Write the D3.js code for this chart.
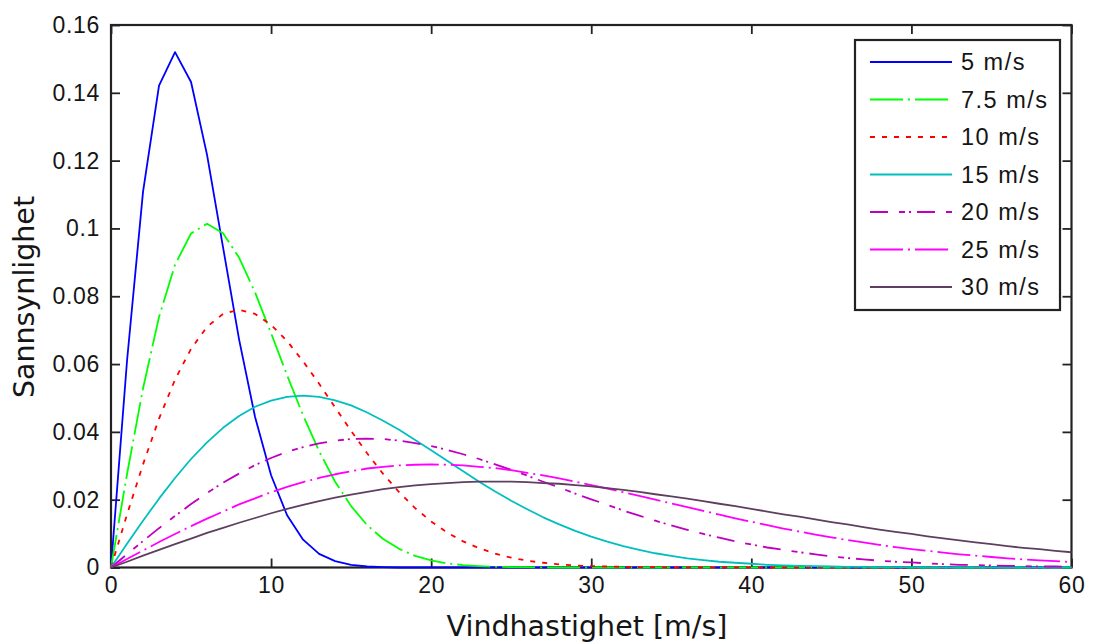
<!DOCTYPE html>
<html>
<head>
<meta charset="utf-8">
<script src="https://cdn.jsdelivr.net/npm/d3@7"></script>
<style>
  html, body { margin: 0; padding: 0; background: #ffffff; }
  svg { display: block; }
</style>
</head>
<body>
<svg id="chart" width="1096" height="642"></svg>
<script>
// ---------- data ----------
const windSpeeds = [0,1,2,3,4,5,6,7,8,9,10,11,12,13,14,15,16,17,18,19,20,21,22,23,24,25,26,27,28,29,30,
  31,32,33,34,35,36,37,38,39,40,41,42,43,44,45,46,47,48,49,50,51,52,53,54,55,56,57,58,59,60];

const seriesNames = ["5 m/s", "7.5 m/s", "10 m/s", "15 m/s", "20 m/s", "25 m/s", "30 m/s"];

const p5 = [0, 0.0609, 0.1108, 0.1421, 0.1520, 0.1432, 0.1217, 0.0944, 0.0673, 0.0444, 0.0272,
  0.0154, 0.0082, 0.0040, 0.0019, 0.0008, 0.0003, 0.0001, 0, 0, 0,
  0, 0, 0, 0, 0, 0, 0, 0, 0, 0,
  0, 0, 0, 0, 0, 0, 0, 0, 0, 0,
  0, 0, 0, 0, 0, 0, 0, 0, 0, 0,
  0, 0, 0, 0, 0, 0, 0, 0, 0, 0];

const p7_5 = [0, 0.0275, 0.0528, 0.0739, 0.0893, 0.0985, 0.1014, 0.0986, 0.0914, 0.0811, 0.0691,
  0.0567, 0.0449, 0.0343, 0.0253, 0.0181, 0.0125, 0.0084, 0.0055, 0.0034, 0.0021,
  0.0012, 0.0007, 0.0004, 0.0002, 0.0001, 0.0001, 0, 0, 0, 0,
  0, 0, 0, 0, 0, 0, 0, 0, 0, 0,
  0, 0, 0, 0, 0, 0, 0, 0, 0, 0,
  0, 0, 0, 0, 0, 0, 0, 0, 0, 0];

const p10 = [0, 0.0156, 0.0304, 0.0439, 0.0554, 0.0645, 0.0710, 0.0748, 0.0760, 0.0748, 0.0716,
  0.0668, 0.0608, 0.0542, 0.0472, 0.0403, 0.0337, 0.0276, 0.0222, 0.0175, 0.0136,
  0.0103, 0.0077, 0.0057, 0.0041, 0.0029, 0.0020, 0.0014, 0.0009, 0.0006, 0.0004,
  0.0003, 0.0002, 0.0001, 0.0001, 0, 0, 0, 0, 0, 0,
  0, 0, 0, 0, 0, 0, 0, 0, 0, 0,
  0, 0, 0, 0, 0, 0, 0, 0, 0, 0];

const p15 = [0, 0.0070, 0.0138, 0.0203, 0.0264, 0.0320, 0.0369, 0.0412, 0.0447, 0.0474, 0.0492,
  0.0503, 0.0507, 0.0503, 0.0493, 0.0478, 0.0457, 0.0433, 0.0406, 0.0376, 0.0346,
  0.0315, 0.0284, 0.0253, 0.0224, 0.0197, 0.0172, 0.0148, 0.0127, 0.0108, 0.0091,
  0.0076, 0.0063, 0.0052, 0.0042, 0.0034, 0.0027, 0.0022, 0.0017, 0.0014, 0.0011,
  0.0008, 0.0006, 0.0005, 0.0004, 0.0003, 0.0002, 0.0002, 0.0001, 0.0001, 0.0001,
  0, 0, 0, 0, 0, 0, 0, 0, 0, 0];

const p20 = [0, 0.0039, 0.0078, 0.0116, 0.0152, 0.0187, 0.0220, 0.0250, 0.0277, 0.0302, 0.0323,
  0.0341, 0.0355, 0.0366, 0.0374, 0.0379, 0.0380, 0.0379, 0.0374, 0.0367, 0.0358,
  0.0347, 0.0334, 0.0320, 0.0304, 0.0288, 0.0271, 0.0253, 0.0236, 0.0218, 0.0201,
  0.0185, 0.0168, 0.0153, 0.0138, 0.0124, 0.0111, 0.0099, 0.0088, 0.0077, 0.0068,
  0.0059, 0.0052, 0.0045, 0.0039, 0.0033, 0.0028, 0.0024, 0.0020, 0.0017, 0.0015,
  0.0012, 0.0010, 0.0008, 0.0007, 0.0006, 0.0005, 0.0004, 0.0003, 0.0003, 0.0002];

const p25 = [0, 0.0025, 0.0050, 0.0075, 0.0099, 0.0122, 0.0144, 0.0165, 0.0186, 0.0204, 0.0222,
  0.0238, 0.0252, 0.0264, 0.0275, 0.0284, 0.0292, 0.0297, 0.0301, 0.0303, 0.0304,
  0.0303, 0.0301, 0.0297, 0.0293, 0.0287, 0.0279, 0.0272, 0.0263, 0.0253, 0.0243,
  0.0233, 0.0222, 0.0211, 0.0200, 0.0189, 0.0178, 0.0167, 0.0156, 0.0145, 0.0135,
  0.0125, 0.0115, 0.0106, 0.0097, 0.0089, 0.0081, 0.0074, 0.0067, 0.0060, 0.0054,
  0.0049, 0.0044, 0.0039, 0.0035, 0.0031, 0.0027, 0.0024, 0.0021, 0.0019, 0.0016];

const p30 = [0, 0.0017, 0.0035, 0.0052, 0.0069, 0.0085, 0.0102, 0.0117, 0.0132, 0.0146, 0.0160,
  0.0173, 0.0185, 0.0196, 0.0206, 0.0215, 0.0223, 0.0231, 0.0237, 0.0242, 0.0246,
  0.0249, 0.0252, 0.0253, 0.0253, 0.0253, 0.0252, 0.0249, 0.0247, 0.0243, 0.0239,
  0.0234, 0.0229, 0.0223, 0.0216, 0.0210, 0.0203, 0.0196, 0.0188, 0.0181, 0.0173,
  0.0165, 0.0157, 0.0150, 0.0142, 0.0134, 0.0127, 0.0119, 0.0112, 0.0105, 0.0099,
  0.0092, 0.0086, 0.0080, 0.0074, 0.0069, 0.0063, 0.0058, 0.0054, 0.0049, 0.0045];

const xTicks = [0, 10, 20, 30, 40, 50, 60];
const yTicks = [0, 0.02, 0.04, 0.06, 0.08, 0.1, 0.12, 0.14, 0.16];
const yTickLabels = ["0", "0.02", "0.04", "0.06", "0.08", "0.1", "0.12", "0.14", "0.16"];
const xLabel = "Vindhastighet [m/s]";
const yLabel = "Sannsynlighet";

// ---------- styling ----------
const seriesValues = [p5, p7_5, p10, p15, p20, p25, p30];
const colors = ["#0000ff", "#00ff00", "#ff0000", "#00bfbf", "#bf00bf", "#ff00ff", "#5f3f5f"];
const dashes = [null, "33,5,2,5", "5,7", null, "18,11,6,4,2,6", "33,5,2,5", null];

const L = 111, R = 1071.5, T = 25, B = 567.5;
const axisColor = "#222222";
const tickFont = "'Liberation Sans', Arial, Helvetica, sans-serif";
const labelFont = "'DejaVu Sans', Verdana, Tahoma, sans-serif";

const svg = d3.select("#chart");
svg.append("rect").attr("width", 1096).attr("height", 642).attr("fill", "#fff");

const x = d3.scaleLinear().domain([0, 60]).range([L, R]);
const y = d3.scaleLinear().domain([0, 0.16]).range([B, T]);

// axes
function styleAxis(g) {
  g.select(".domain").remove();
  g.selectAll(".tick line").attr("stroke", axisColor).attr("stroke-width", 1.8);
  g.selectAll(".tick text")
    .attr("fill", "#151515")
    .style("font-family", tickFont)
    .style("font-size", "23px")
    .style("letter-spacing", "0.7px");
}

svg.append("g").attr("transform", `translate(${L},0)`)
  .call(d3.axisLeft(y).tickValues(yTicks).tickFormat((d, i) => yTickLabels[i]).tickSize(-9).tickPadding(11))
  .call(styleAxis);
svg.append("g").attr("transform", `translate(${R},0)`)
  .call(d3.axisRight(y).tickValues(yTicks).tickFormat("").tickSize(-9))
  .call(styleAxis);
svg.append("g").attr("transform", `translate(0,${B})`)
  .call(d3.axisBottom(x).tickValues(xTicks).tickFormat(d3.format("d")).tickSize(-9).tickPadding(9))
  .call(styleAxis);
svg.append("g").attr("transform", `translate(0,${T})`)
  .call(d3.axisTop(x).tickValues(xTicks).tickFormat("").tickSize(-9))
  .call(styleAxis);

svg.append("rect")
  .attr("x", L).attr("y", T).attr("width", R - L).attr("height", B - T)
  .attr("fill", "none").attr("stroke", axisColor).attr("stroke-width", 2.2);

// lines
const line = d3.line().x((d, i) => x(windSpeeds[i])).y(d => y(d));
seriesValues.forEach((vals, k) => {
  svg.append("path")
    .datum(vals)
    .attr("d", line)
    .attr("fill", "none")
    .attr("stroke", colors[k])
    .attr("stroke-width", 1.8)
    .attr("stroke-dasharray", dashes[k])
    .attr("stroke-linejoin", "round");
});

// legend
const lg = svg.append("g");
lg.append("rect").attr("x", 855).attr("y", 40).attr("width", 205).attr("height", 270)
  .attr("fill", "#fff").attr("stroke", axisColor).attr("stroke-width", 2.2);
seriesNames.forEach((name, k) => {
  const cy = 62 + k * 37.5;
  lg.append("line").attr("x1", 870).attr("x2", 952).attr("y1", cy).attr("y2", cy)
    .attr("stroke", colors[k]).attr("stroke-width", 1.8)
    .attr("stroke-dasharray", dashes[k]);
  lg.append("text").attr("x", 961).attr("y", cy).attr("dy", "0.36em")
    .attr("fill", "#151515")
    .style("font-family", tickFont).style("font-size", "23.5px").style("letter-spacing", "1.5px")
    .text(name);
});

// axis titles
svg.append("text")
  .attr("x", 587).attr("y", 636)
  .attr("text-anchor", "middle")
  .attr("fill", "#151515")
  .style("font-family", labelFont).style("font-size", "28.5px")
  .text(xLabel);

svg.append("text")
  .attr("transform", "translate(34,297) rotate(-90)")
  .attr("text-anchor", "middle")
  .attr("fill", "#151515")
  .style("font-family", labelFont).style("font-size", "28.5px")
  .text(yLabel);
</script>
</body>
</html>
